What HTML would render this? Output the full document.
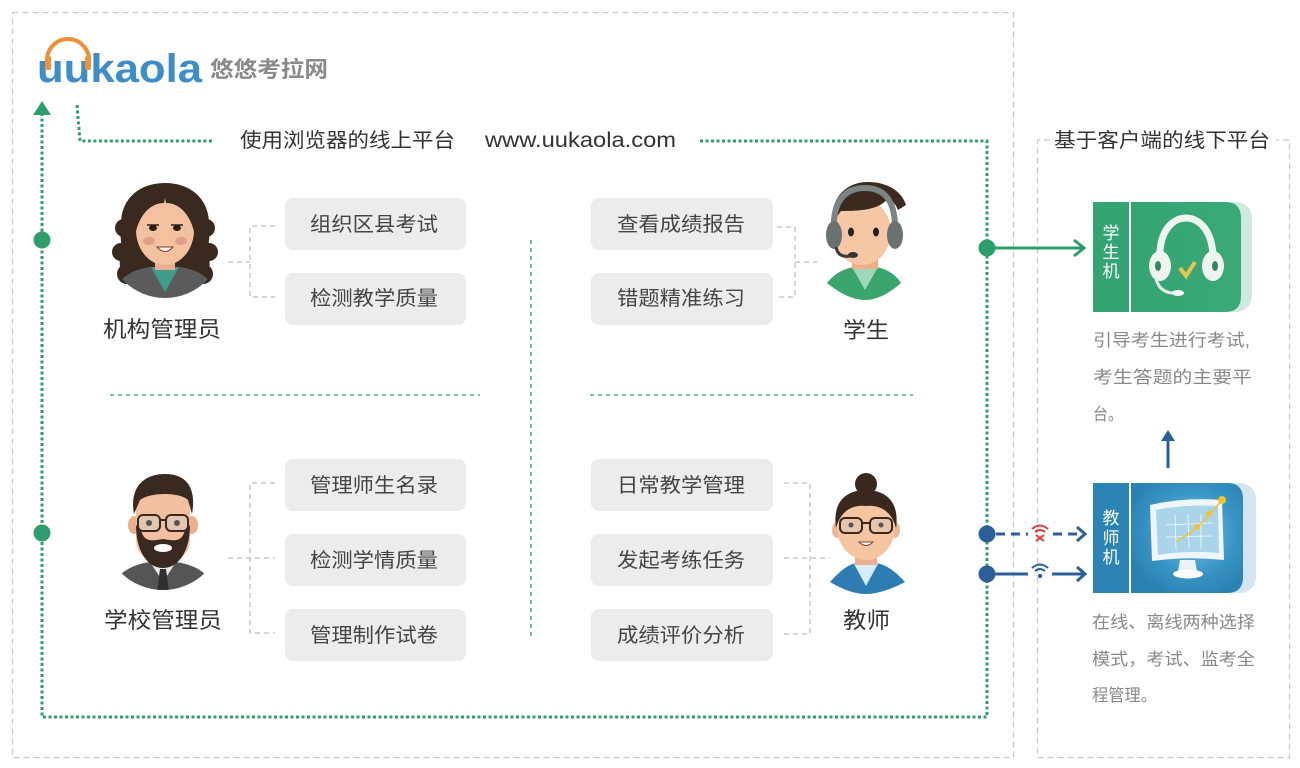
<!DOCTYPE html>
<html><head><meta charset="utf-8">
<style>
html,body{margin:0;padding:0;background:#fff;}
svg{display:block;}
text{font-family:"Liberation Sans","Noto Sans CJK SC",sans-serif;}
</style></head><body>
<svg width="1300" height="768" viewBox="0 0 1300 768" xmlns="http://www.w3.org/2000/svg">
<defs>
  <clipPath id="c1"><circle cx="165" cy="240" r="58"/></clipPath>
  <clipPath id="c2"><circle cx="163" cy="530" r="60"/></clipPath>
  <radialGradient id="gb" cx="0.55" cy="0.45" r="0.6">
    <stop offset="0" stop-color="#7cc6e6"/>
    <stop offset="0.6" stop-color="#3c97c6"/>
    <stop offset="1" stop-color="#2a82b1"/>
  </radialGradient>
  <linearGradient id="gg" x1="0" y1="0" x2="1" y2="0">
    <stop offset="0" stop-color="#35a473"/>
    <stop offset="1" stop-color="#3aa978"/>
  </linearGradient>
</defs>

<!-- outer gray dashed boxes -->
<rect x="12.5" y="12.5" width="1001" height="745" fill="none" stroke="#c8c8c8" stroke-width="1.2" stroke-dasharray="6 4"/>
<path d="M1050,140 L1037.5,140 L1037.5,757.5 L1289.5,757.5 L1289.5,140 L1276,140" fill="none" stroke="#c8c8c8" stroke-width="1.2" stroke-dasharray="6 4"/>

<!-- logo -->
<text x="37" y="82" font-size="40" font-weight="bold" fill="#3c8dc8" textLength="165" lengthAdjust="spacingAndGlyphs">uukaola</text>
<path d="M47,60 A21,21 0 0 1 89,60" fill="none" stroke="#f0913a" stroke-width="4"/>
<rect x="45" y="56" width="6" height="14" rx="2" fill="#f0913a"/>
<rect x="85" y="56" width="6" height="14" rx="2" fill="#f0913a"/>
<text x="210" y="77" font-size="22" font-weight="bold" fill="#8a8a8a" textLength="118" lengthAdjust="spacingAndGlyphs">悠悠考拉网</text>

<!-- green dotted main path -->
<g fill="none" stroke="#2f9e6c" stroke-width="3" stroke-dasharray="3 2.5">
  <path d="M77,105 L80,141 L213,141"/>
  <path d="M700,141 L987,141 L987,717 L42,717 L42,114"/>
</g>
<path d="M33,115 L42,101 L51,115 Z" fill="#2f9e6c"/>
<circle cx="42" cy="240" r="8.5" fill="#2f9e6c"/>
<circle cx="42" cy="533" r="8.5" fill="#2f9e6c"/>

<!-- titles -->
<text x="240" y="147" font-size="20" fill="#333" textLength="215" lengthAdjust="spacingAndGlyphs">使用浏览器的线上平台</text>
<text x="485" y="147" font-size="21" fill="#333" textLength="191" lengthAdjust="spacingAndGlyphs">www.uukaola.com</text>
<text x="1054" y="147" font-size="20" fill="#333" textLength="216" lengthAdjust="spacingAndGlyphs">基于客户端的线下平台</text>

<!-- green dashed dividers -->
<g fill="none" stroke="#4aaa7f" stroke-width="1.5" stroke-dasharray="4 4">
  <path d="M110,395 L480,395"/>
  <path d="M590,395 L913,395"/>
  <path d="M531,240 L531,636"/>
</g>

<!-- gray connectors -->
<g fill="none" stroke="#bdbdbd" stroke-width="1.2" stroke-dasharray="5 4">
  <path d="M228,262 L250,262"/>
  <path d="M275,226 L250,226 L250,297 L275,297"/>
  <path d="M777,227 L795,227 L795,297 L777,297"/>
  <path d="M795,262 L817,262"/>
  <path d="M275,483 L250,483 L250,633 L275,633"/>
  <path d="M228,558 L275,558"/>
  <path d="M784,483 L810,483 L810,634 L784,634"/>
  <path d="M784,558 L830,558"/>
</g>

<!-- boxes -->
<g fill="#ececec">
  <rect x="285" y="198" width="181" height="52" rx="8"/>
  <rect x="285" y="273" width="181" height="52" rx="8"/>
  <rect x="285" y="459" width="181" height="52" rx="8"/>
  <rect x="285" y="534" width="181" height="52" rx="8"/>
  <rect x="285" y="609" width="181" height="52" rx="8"/>
  <rect x="591" y="198" width="182" height="52" rx="8"/>
  <rect x="591" y="273" width="182" height="52" rx="8"/>
  <rect x="591" y="459" width="182" height="52" rx="8"/>
  <rect x="591" y="534" width="182" height="52" rx="8"/>
  <rect x="591" y="609" width="182" height="52" rx="8"/>
</g>
<g font-size="20" fill="#444">
  <text x="310" y="231" textLength="128" lengthAdjust="spacingAndGlyphs">组织区县考试</text>
  <text x="310" y="305" textLength="128" lengthAdjust="spacingAndGlyphs">检测教学质量</text>
  <text x="310" y="492" textLength="128" lengthAdjust="spacingAndGlyphs">管理师生名录</text>
  <text x="310" y="567" textLength="128" lengthAdjust="spacingAndGlyphs">检测学情质量</text>
  <text x="310" y="642" textLength="128" lengthAdjust="spacingAndGlyphs">管理制作试卷</text>
  <text x="617" y="231" textLength="128" lengthAdjust="spacingAndGlyphs">查看成绩报告</text>
  <text x="617" y="305" textLength="128" lengthAdjust="spacingAndGlyphs">错题精准练习</text>
  <text x="617" y="492" textLength="128" lengthAdjust="spacingAndGlyphs">日常教学管理</text>
  <text x="617" y="567" textLength="128" lengthAdjust="spacingAndGlyphs">发起考练任务</text>
  <text x="617" y="642" textLength="128" lengthAdjust="spacingAndGlyphs">成绩评价分析</text>
</g>

<!-- person labels -->
<g font-size="22" fill="#333">
  <text x="103" y="337" textLength="118" lengthAdjust="spacingAndGlyphs">机构管理员</text>
  <text x="104" y="628" textLength="118" lengthAdjust="spacingAndGlyphs">学校管理员</text>
  <text x="843" y="338" textLength="46" lengthAdjust="spacingAndGlyphs">学生</text>
  <text x="843" y="628" textLength="47" lengthAdjust="spacingAndGlyphs">教师</text>
</g>

<!-- Avatar: woman admin -->
<g>
  <path d="M165,183 C140,183 122,198 121,222 C118,235 124,245 120,258 C118,272 126,282 136,290 L194,290 C204,282 212,272 209,258 C206,245 212,235 209,222 C208,198 190,183 165,183 Z" fill="#3a291e"/>
  <circle cx="124" cy="228" r="9" fill="#3a291e"/>
  <circle cx="121" cy="252" r="9" fill="#3a291e"/>
  <circle cx="127" cy="274" r="10" fill="#3a291e"/>
  <circle cx="206" cy="228" r="9" fill="#3a291e"/>
  <circle cx="209" cy="252" r="9" fill="#3a291e"/>
  <circle cx="203" cy="274" r="10" fill="#3a291e"/>
  <g clip-path="url(#c1)">
    <path d="M112,302 L118,284 Q128,270 150,267 L180,267 Q202,270 212,284 L218,302 Z" fill="#5b5b5b"/>
    <path d="M151,267 L165,292 L179,267 Z" fill="#3f9c8c"/>
  </g>
  <rect x="155" y="254" width="20" height="16" fill="#e9af8e"/>
  <ellipse cx="165" cy="230" rx="29" ry="35" fill="#f3c1a0"/>
  <path d="M135,236 C132,205 147,192 165,192 C183,192 198,205 195,236 C191,214 179,203 166,203 L165,198 L164,203 C151,203 139,214 135,236 Z" fill="#3a291e"/>
  <ellipse cx="153" cy="228" rx="4" ry="3" fill="#2b1d15"/>
  <ellipse cx="177" cy="228" rx="4" ry="3" fill="#2b1d15"/>
  <path d="M147,225 L159,225 M171,225 L183,225" stroke="#2b1d15" stroke-width="1.5"/>
  <ellipse cx="149" cy="241" rx="6" ry="4" fill="#dd9580" opacity="0.8"/>
  <ellipse cx="181" cy="241" rx="6" ry="4" fill="#dd9580" opacity="0.8"/>
  <path d="M157,247 Q165,256 173,247 Z" fill="#fff" stroke="#7a3a2a" stroke-width="1"/>
</g>

<!-- Avatar: school admin man -->
<g>
  <g clip-path="url(#c2)">
    <path d="M112,592 L120,575 Q130,565 150,562 L176,562 Q196,565 206,575 L214,592 Z" fill="#555"/>
    <path d="M150,562 L163,582 L176,562 Z" fill="#e8e8e8"/>
    <path d="M160,569 L166,569 L169,592 L157,592 Z" fill="#2f2f2f"/>
  </g>
  <rect x="152" y="550" width="22" height="16" fill="#e9ae8c"/>
  <ellipse cx="134" cy="525" rx="6" ry="9" fill="#eab08e"/>
  <ellipse cx="192" cy="525" rx="6" ry="9" fill="#eab08e"/>
  <rect x="136" y="486" width="54" height="76" rx="22" fill="#f2c09e"/>
  <path d="M134,514 C129,486 145,474 165,474 C185,474 197,486 192,514 L188,500 C180,492 150,492 140,500 Z" fill="#3a2920"/>
  <path d="M136,525 C136,552 148,568 163,568 C178,568 190,552 190,525 L185,530 C182,542 175,541 163,539 C151,541 144,542 141,530 Z" fill="#3a2920"/>
  <ellipse cx="163" cy="548" rx="9" ry="4" fill="#fff"/>
  <rect x="138" y="515" width="22" height="16" rx="5" fill="#d7cabe" fill-opacity="0.6" stroke="#3a2920" stroke-width="2"/>
  <rect x="166" y="515" width="22" height="16" rx="5" fill="#d7cabe" fill-opacity="0.6" stroke="#3a2920" stroke-width="2"/>
  <path d="M160,520 L166,520" stroke="#3a2920" stroke-width="2"/>
  <circle cx="149" cy="523" r="3" fill="#555"/>
  <circle cx="177" cy="523" r="3" fill="#555"/>
</g>

<!-- Avatar: student -->
<g>
  <path d="M827,283 Q840,266 865,266 Q890,266 901,283 Q882,300 865,300 Q848,300 827,283 Z" fill="#3aa56d"/>
  <path d="M852,267 L865,290 L878,267 Z" fill="#9fd8b8"/>
  <rect x="852" y="250" width="26" height="19" fill="#eeae88"/>
  <ellipse cx="862" cy="232" rx="29" ry="33" fill="#f6c7a4"/>
  <path d="M832,228 C829,199 845,182 868,182 C888,182 902,192 906,205 L898,210 C896,205 892,200 888,198 C880,210 860,211 841,211 C837,216 834,222 832,228 Z" fill="#3c2a1f"/>
  <path d="M834,232 C832,200 846,188 865,188 C884,188 896,200 895,232" fill="none" stroke="#7c8383" stroke-width="6"/>
  <ellipse cx="834" cy="235" rx="8" ry="14" fill="#6b7070"/>
  <ellipse cx="895" cy="235" rx="8" ry="14" fill="#6b7070"/>
  <path d="M836,247 Q838,258 850,256" fill="none" stroke="#3a3a3a" stroke-width="3"/>
  <ellipse cx="853" cy="255" rx="5" ry="3" fill="#333"/>
  <ellipse cx="851" cy="232" rx="3" ry="4.5" fill="#222"/>
  <ellipse cx="876" cy="232" rx="3" ry="4.5" fill="#222"/>
</g>

<!-- Avatar: teacher -->
<g>
  <path d="M830,582 Q845,565 856,563 L876,563 Q890,565 905,582 Q882,594 866,594 Q850,594 830,582 Z" fill="#2d7db2"/>
  <path d="M853,562 L866,586 L879,562 Z" fill="#d6ecf6"/>
  <rect x="855" y="548" width="22" height="17" fill="#eaae8c"/>
  <ellipse cx="837" cy="530" rx="5" ry="8" fill="#eeb592"/>
  <ellipse cx="895" cy="530" rx="5" ry="8" fill="#eeb592"/>
  <ellipse cx="866" cy="527" rx="29" ry="33" fill="#f5c5a2"/>
  <circle cx="866" cy="484" r="11" fill="#3a281e"/>
  <path d="M836,528 C832,500 848,490 866,490 C884,490 900,500 896,528 C892,512 880,504 866,506 C852,504 840,512 836,528 Z" fill="#3a281e"/>
  <rect x="840" y="518" width="22" height="15" rx="5" fill="#d9c3b3" fill-opacity="0.5" stroke="#3a281e" stroke-width="2"/>
  <rect x="870" y="518" width="22" height="15" rx="5" fill="#d9c3b3" fill-opacity="0.5" stroke="#3a281e" stroke-width="2"/>
  <path d="M862,523 L870,523" stroke="#3a281e" stroke-width="2"/>
  <circle cx="851" cy="525" r="2.5" fill="#555"/>
  <circle cx="881" cy="525" r="2.5" fill="#555"/>
  <path d="M859,542 Q866,549 873,542 Z" fill="#fff" stroke="#8a4030" stroke-width="1"/>
</g>

<!-- green arrow to student machine -->
<circle cx="987" cy="248" r="8.5" fill="#2f9e6c"/>
<path d="M987,248 L1083,248" stroke="#2f9e6c" stroke-width="3"/>
<path d="M1074,240 L1084,248 L1074,256" fill="none" stroke="#2f9e6c" stroke-width="3"/>

<!-- blue connectors to teacher machine -->
<circle cx="987" cy="534" r="8.5" fill="#2c5f9a"/>
<circle cx="987" cy="574" r="8.5" fill="#2c5f9a"/>
<path d="M996,534 L1028,534 M1053,534 L1082,534" stroke="#2c5f9a" stroke-width="3" stroke-dasharray="9 6"/>
<path d="M1077,527 L1085,534 L1077,541" fill="none" stroke="#2c5f9a" stroke-width="3"/>
<path d="M995,574 L1028,574 M1052,574 L1083,574" stroke="#2c5f9a" stroke-width="3"/>
<path d="M1077,567 L1085,574 L1077,581" fill="none" stroke="#2c5f9a" stroke-width="3"/>
<!-- red wifi x -->
<g fill="none" stroke="#e23b3b" stroke-width="2">
  <path d="M1032,529 Q1040,522 1048,529"/>
  <path d="M1035,532 Q1040,528 1045,532"/>
  <path d="M1036,535 L1044,541 M1044,535 L1036,541"/>
</g>
<!-- blue wifi -->
<g fill="none" stroke="#2c5f9a" stroke-width="2">
  <path d="M1032,568 Q1040,561 1048,568"/>
  <path d="M1035,571 Q1040,567 1045,571"/>
</g>
<circle cx="1040" cy="576" r="2.2" fill="#2c5f9a"/>

<!-- student machine -->
<rect x="1131" y="202" width="121" height="110" rx="16" fill="#cfe9db"/>
<path d="M1131,202 L1225,202 Q1241,202 1241,218 L1241,296 Q1241,312 1225,312 L1131,312 Z" fill="url(#gg)"/>
<rect x="1093" y="202" width="36" height="110" fill="#35a473"/>
<path d="M1160,262 C1158,232 1172,218 1186,218 C1200,218 1214,232 1213,262" fill="none" stroke="#eef4f0" stroke-width="7"/>
<ellipse cx="1160" cy="266" rx="11" ry="15" fill="#eef3f0"/>
<ellipse cx="1158" cy="266" rx="3" ry="5" fill="#2e8a60"/>
<ellipse cx="1213" cy="266" rx="11" ry="15" fill="#eef3f0"/>
<ellipse cx="1215" cy="266" rx="3" ry="5" fill="#2e8a60"/>
<path d="M1156,279 Q1160,293 1174,293" fill="none" stroke="#eaf0ec" stroke-width="3"/>
<ellipse cx="1178" cy="293" rx="6" ry="3" fill="#fff"/>
<path d="M1180,268 L1186,276 L1195,262" fill="none" stroke="#e8c44a" stroke-width="4"/>
<g font-size="17" fill="#fff" text-anchor="middle">
  <text x="1111" y="239">学</text>
  <text x="1111" y="258">生</text>
  <text x="1111" y="277">机</text>
</g>
<g font-size="17" fill="#888">
  <text x="1093" y="346" textLength="157" lengthAdjust="spacingAndGlyphs">引导考生进行考试,</text>
  <text x="1093" y="383" textLength="159" lengthAdjust="spacingAndGlyphs">考生答题的主要平</text>
  <text x="1093" y="420" textLength="30" lengthAdjust="spacingAndGlyphs">台。</text>
</g>

<!-- up arrow -->
<path d="M1168,468 L1168,434" stroke="#2c5f9a" stroke-width="3"/>
<path d="M1161,441 L1168,430 L1175,441 Z" fill="#2c5f9a"/>

<!-- teacher machine -->
<rect x="1131" y="483" width="125" height="110" rx="16" fill="#d3e6f0"/>
<path d="M1131,483 L1227,483 Q1243,483 1243,499 L1243,577 Q1243,593 1227,593 L1131,593 Z" fill="url(#gb)"/>
<rect x="1093" y="483" width="36" height="110" fill="#2b84b3"/>
<path d="M1150,505 Q1185,497 1222,500 L1224,560 Q1188,556 1152,561 Z" fill="#eef6fb"/>
<path d="M1156,510 Q1186,504 1218,506 L1219,553 Q1188,550 1158,555 Z" fill="#a9d4ea"/>
<g stroke="#e6f2f8" stroke-width="1">
  <path d="M1175,515 L1176,550 M1188,514 L1189,549 M1201,514 L1201,549"/>
  <path d="M1166,525 L1212,523 M1166,537 L1212,536"/>
</g>
<path d="M1176,542 L1190,533 L1205,520 L1222,500" fill="none" stroke="#f1c232" stroke-width="1.5"/>
<circle cx="1222" cy="500" r="4" fill="#f1c232"/>
<circle cx="1209" cy="514" r="3" fill="#f1c232"/>
<circle cx="1197" cy="527" r="3" fill="#f1c232"/>
<path d="M1180,560 L1195,560 L1197,571 L1178,571 Z" fill="#e8f2f8"/>
<ellipse cx="1188" cy="574" rx="15" ry="4.5" fill="#fff"/>
<g font-size="17" fill="#fff" text-anchor="middle">
  <text x="1111" y="524">教</text>
  <text x="1111" y="544">师</text>
  <text x="1111" y="563">机</text>
</g>
<g font-size="17" fill="#888">
  <text x="1092" y="628" textLength="163" lengthAdjust="spacingAndGlyphs">在线、离线两种选择</text>
  <text x="1092" y="665" textLength="163" lengthAdjust="spacingAndGlyphs">模式，考试、监考全</text>
  <text x="1092" y="701" textLength="65" lengthAdjust="spacingAndGlyphs">程管理。</text>
</g>
</svg>
</body></html>
